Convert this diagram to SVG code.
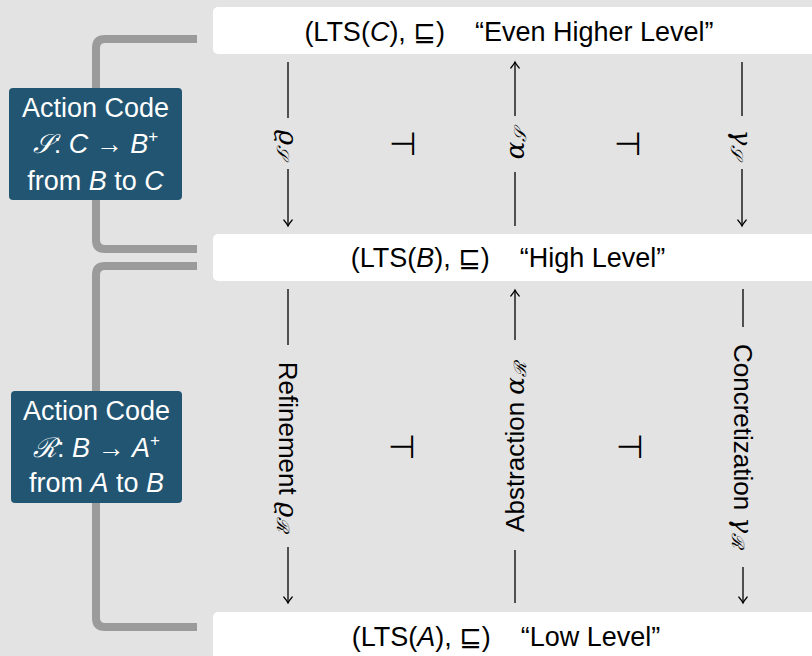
<svg xmlns="http://www.w3.org/2000/svg" width="812" height="656" viewBox="0 0 812 656">
  <defs>
    <marker id="tip" markerUnits="userSpaceOnUse" markerWidth="12" markerHeight="12" viewBox="-8 -6 10 12" refX="0" refY="0" orient="auto">
      <path d="M-6,-4.2 Q-2.2,-1 0,0 Q-2.2,1 -6,4.2" fill="none" stroke="#000" stroke-width="1.2" stroke-linecap="round"/>
    </marker>
    <style>
      .level { fill: #ffffff; }
      .level-text { font-family: "Liberation Sans", "DejaVu Sans", sans-serif; font-size: 27px; fill: #000; }
      .code-box { fill: #225572; }
      .code-text { font-family: "Liberation Sans", "DejaVu Sans", sans-serif; font-size: 27px; fill: #ffffff; }
      .bracket { fill: none; stroke: #9b9b9b; stroke-width: 8; }
      .conn { fill: none; stroke: #000; stroke-width: 1.3; }
      .lbl { font-family: "Liberation Sans", "DejaVu Sans", sans-serif; font-size: 26px; fill: #000; }
      .math { font-family: "DejaVu Serif", "Liberation Serif", serif; font-style: italic; }
      .it { font-style: italic; }
      .adj { font-family: "DejaVu Sans", sans-serif; font-size: 32px; fill: #000; }
    </style>
  </defs>

  <rect x="0" y="0" width="812" height="656" fill="#e3e3e3"/>

  <!-- brackets joining each action code to its two levels -->
  <g id="brackets">
    <path class="bracket" d="M197,39 H105 Q96,39 96,48 V240 Q96,249 105,249 H197"/>
    <path class="bracket" d="M197,266 H105 Q96,266 96,275 V618 Q96,627 105,627 H197"/>
  </g>

  <!-- levels -->
  <g id="level-c">
    <rect class="level" x="213" y="7" width="620" height="47" rx="5"/>
    <text class="level-text" x="509" y="41" text-anchor="middle" xml:space="preserve">(LTS(<tspan class="it">C</tspan>), ⊑)    “Even Higher Level”</text>
  </g>
  <g id="level-b">
    <rect class="level" x="213" y="234" width="620" height="47" rx="5"/>
    <text class="level-text" x="508" y="267" text-anchor="middle" xml:space="preserve">(LTS(<tspan class="it">B</tspan>), ⊑)    “High Level”</text>
  </g>
  <g id="level-a">
    <rect class="level" x="213" y="612" width="620" height="60" rx="5"/>
    <text class="level-text" x="506" y="646" text-anchor="middle" xml:space="preserve">(LTS(<tspan class="it">A</tspan>), ⊑)    “Low Level”</text>
  </g>

  <!-- action codes -->
  <g id="code-s">
    <rect class="code-box" x="9" y="88" width="173" height="112" rx="4"/>
    <text class="code-text" x="95.5" y="117" text-anchor="middle">Action Code</text>
    <text class="code-text" x="95.5" y="153" text-anchor="middle"><tspan class="math">𝒮</tspan>: <tspan class="it">C</tspan> → <tspan class="it">B</tspan><tspan font-size="17" dy="-11">+</tspan></text>
    <text class="code-text" x="95.5" y="190" text-anchor="middle">from <tspan class="it">B</tspan> to <tspan class="it">C</tspan></text>
  </g>
  <g id="code-r">
    <rect class="code-box" x="11" y="391" width="171" height="112" rx="4"/>
    <text class="code-text" x="96.5" y="420" text-anchor="middle">Action Code</text>
    <text class="code-text" x="96.5" y="457" text-anchor="middle"><tspan class="math">ℛ</tspan>: <tspan class="it">B</tspan> → <tspan class="it">A</tspan><tspan font-size="17" dy="-11">+</tspan></text>
    <text class="code-text" x="96.5" y="492" text-anchor="middle">from <tspan class="it">A</tspan> to <tspan class="it">B</tspan></text>
  </g>

  <!-- maps between C and B -->
  <g id="connectors">
    <path class="conn" d="M288,62 V118"/>
    <path class="conn" d="M288,169 V226" marker-end="url(#tip)"/>
    <path class="conn" d="M515,116 V62" marker-end="url(#tip)"/>
    <path class="conn" d="M515,172 V226"/>
    <path class="conn" d="M742,62 V116"/>
    <path class="conn" d="M742,169 V226" marker-end="url(#tip)"/>

    <!-- maps between B and A -->
    <path class="conn" d="M288,289 V345"/>
    <path class="conn" d="M288,547 V603" marker-end="url(#tip)"/>
    <path class="conn" d="M515,340 V290" marker-end="url(#tip)"/>
    <path class="conn" d="M515,550 V603"/>
    <path class="conn" d="M743,289 V327"/>
    <path class="conn" d="M743,567 V603" marker-end="url(#tip)"/>
  </g>

  <!-- map labels -->
  <g id="labels-upper">
    <text class="lbl" transform="translate(288,144) rotate(90)" text-anchor="middle" dominant-baseline="central"><tspan class="math">ϱ</tspan><tspan class="math" font-size="17" dy="5">𝒮</tspan></text>
    <text class="lbl" transform="translate(515,144) rotate(-90)" text-anchor="middle" dominant-baseline="central"><tspan class="math">α</tspan><tspan class="math" font-size="17" dy="5">𝒮</tspan></text>
    <text class="lbl" transform="translate(742,144) rotate(90)" text-anchor="middle" dominant-baseline="central"><tspan class="math">γ</tspan><tspan class="math" font-size="17" dy="5">𝒮</tspan></text>
    <text class="adj" x="403" y="144" text-anchor="middle" dominant-baseline="central">⊣</text>
    <text class="adj" x="628" y="144" text-anchor="middle" dominant-baseline="central">⊣</text>
  </g>
  <g id="labels-lower">
    <text class="lbl" transform="translate(288,447) rotate(90)" text-anchor="middle" dominant-baseline="central">Refinement <tspan class="math">ϱ</tspan><tspan class="math" font-size="17" dy="5">ℛ</tspan></text>
    <text class="lbl" transform="translate(515,447) rotate(-90)" text-anchor="middle" dominant-baseline="central">Abstraction <tspan class="math">α</tspan><tspan class="math" font-size="17" dy="5">ℛ</tspan></text>
    <text class="lbl" transform="translate(743,446) rotate(90)" text-anchor="middle" dominant-baseline="central">Concretization <tspan class="math">γ</tspan><tspan class="math" font-size="17" dy="5">ℛ</tspan></text>
    <text class="adj" x="402" y="447" text-anchor="middle" dominant-baseline="central">⊣</text>
    <text class="adj" x="630" y="447" text-anchor="middle" dominant-baseline="central">⊣</text>
  </g>
</svg>
